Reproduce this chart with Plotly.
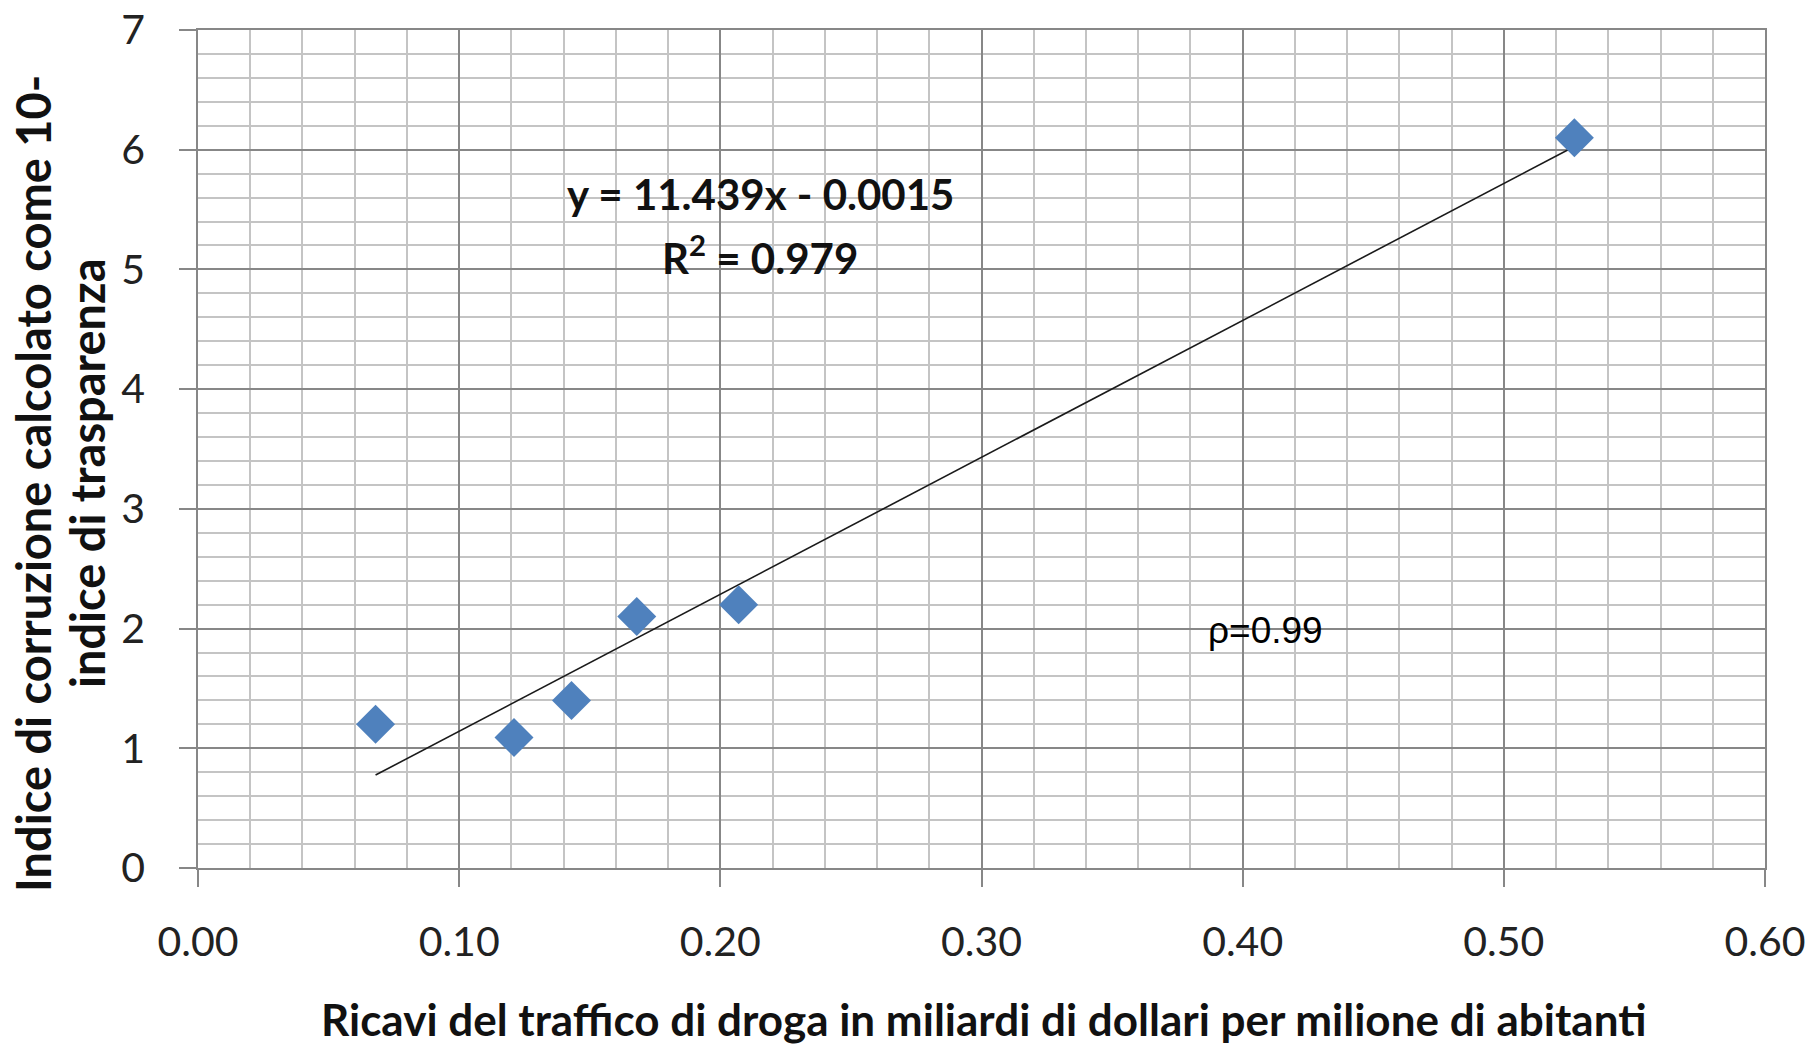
import plotly.graph_objects as go

# Drug-trafficking revenue (billion $ per million inhabitants) vs corruption index
revenue = [0.068, 0.121, 0.143, 0.168, 0.207, 0.527]
corruption = [1.2, 1.09, 1.4, 2.1, 2.2, 6.1]

# Linear trendline as reported in the equation label
slope = 11.439
intercept = -0.0015
r_squared = 0.979
rho = 0.99

x_ticks = [0.0, 0.1, 0.2, 0.3, 0.4, 0.5, 0.6]
y_ticks = [0, 1, 2, 3, 4, 5, 6, 7]

x_title = "Ricavi del traffico di droga in miliardi di dollari per milione di abitanti"
y_title_lines = ["Indice di corruzione calcolato come 10-", "indice di trasparenza"]

W, H = 1820, 1044
M_L, M_R, M_T, M_B = 198, 55, 30, 176
plot_w = W - M_L - M_R
plot_h = H - M_T - M_B


def px_to_paper_x(px):
    return (px - M_L) / plot_w


def px_to_paper_y(py):
    return (H - M_B - py) / plot_h


fit_x = [min(revenue), max(revenue)]
fit_y = [slope * v + intercept for v in fit_x]

fig = go.Figure()

fig.add_trace(go.Scatter(
    x=fit_x, y=fit_y, mode="lines",
    line=dict(color="#1a1a1a", width=1.6),
    hoverinfo="skip", showlegend=False,
))

fig.add_trace(go.Scatter(
    x=revenue, y=corruption, mode="markers",
    marker=dict(symbol="diamond", size=30, color="#4F81BD", line=dict(width=0)),
    showlegend=False,
))

tick_font = dict(family="Lato", size=41, color="#222222")
major_grid = "#878787"
minor_grid = "#c4c4c4"

fig.update_xaxes(
    range=[0, 0.6], tickvals=x_ticks, ticktext=[f"{v:.2f}" for v in x_ticks],
    showgrid=True, gridcolor=major_grid, gridwidth=1.6,
    minor=dict(dtick=0.02, showgrid=True, gridcolor=minor_grid, gridwidth=1.5),
    showline=True, linecolor=major_grid, linewidth=1.6, mirror=True,
    ticks="outside", ticklen=17, tickwidth=1.6, tickcolor=major_grid,
    ticklabelstandoff=20, tickfont=tick_font, zeroline=False, automargin=False,
)
fig.update_yaxes(
    range=[0, 7], tickvals=y_ticks,
    showgrid=True, gridcolor=major_grid, gridwidth=1.6,
    minor=dict(dtick=0.2, showgrid=True, gridcolor=minor_grid, gridwidth=1.5),
    showline=True, linecolor=major_grid, linewidth=1.6, mirror=True,
    ticks="outside", ticklen=17, tickwidth=1.6, tickcolor=major_grid,
    ticklabelstandoff=26, tickfont=tick_font, zeroline=False, automargin=False,
)

x_title_font = dict(family="Lato", size=44, color="#111111", weight="bold")
y_title_font = dict(family="Lato", size=47, color="#111111", weight="bold")
eq_font = dict(family="Lato", size=42, color="#111111", weight="bold")

annotations = [
    dict(text=x_title, x=px_to_paper_x(984), y=px_to_paper_y(1019), xref="paper", yref="paper",
         xanchor="center", yanchor="middle", showarrow=False, font=x_title_font),
    dict(text=y_title_lines[0], x=px_to_paper_x(33), y=px_to_paper_y(484),
         xref="paper", yref="paper", xanchor="center", yanchor="middle",
         textangle=-90, showarrow=False, font=y_title_font),
    dict(text=y_title_lines[1], x=px_to_paper_x(87), y=px_to_paper_y(473),
         xref="paper", yref="paper", xanchor="center", yanchor="middle",
         textangle=-90, showarrow=False, font=y_title_font),
    dict(text=f"y = {slope}x - {abs(intercept)}", x=px_to_paper_x(760), y=px_to_paper_y(194),
         xref="paper", yref="paper", xanchor="center", yanchor="middle",
         showarrow=False, font=eq_font),
    dict(text=f"R<sup>2</sup> = {r_squared}", x=px_to_paper_x(760), y=px_to_paper_y(255),
         xref="paper", yref="paper", xanchor="center", yanchor="middle",
         showarrow=False, font=eq_font),
    dict(text=f"ρ={rho}", x=px_to_paper_x(1265), y=px_to_paper_y(630),
         xref="paper", yref="paper", xanchor="center", yanchor="middle",
         showarrow=False, font=dict(family="Liberation Sans", size=37, color="#000000")),
]

fig.update_layout(
    width=W, height=H,
    margin=dict(l=M_L, r=M_R, t=M_T, b=M_B),
    paper_bgcolor="white", plot_bgcolor="white",
    annotations=annotations,
    showlegend=False,
)

fig.write_html("out.html")
